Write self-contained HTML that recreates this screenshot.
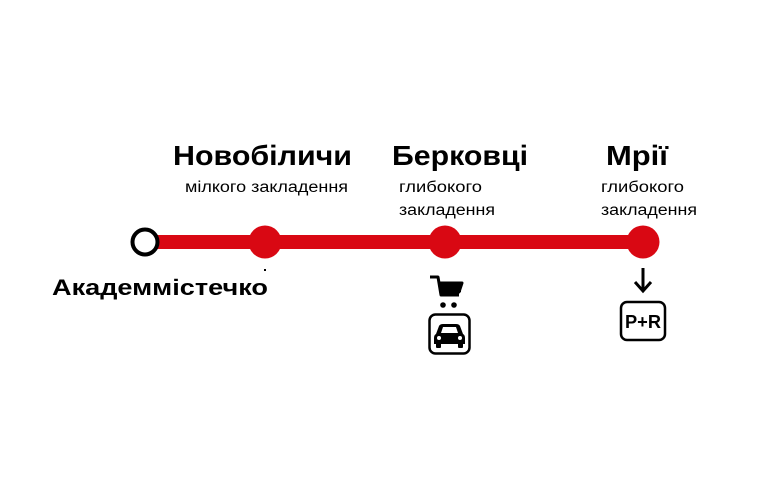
<!DOCTYPE html>
<html><head><meta charset="utf-8"><style>
html,body{margin:0;padding:0;background:#fff;}
svg{display:block;font-family:"Liberation Sans",sans-serif;}
</style></head><body>
<svg width="768" height="480" viewBox="0 0 768 480">
<rect x="150" y="235" width="495" height="14" fill="#d90813"/>
<circle cx="145" cy="242" r="12.5" fill="#fff" stroke="#000" stroke-width="4"/>
<circle cx="265" cy="242" r="16.5" fill="#d90813"/>
<circle cx="445" cy="242" r="16.5" fill="#d90813"/>
<circle cx="643" cy="242" r="16.5" fill="#d90813"/>
<rect x="264" y="269" width="2" height="2" fill="#000"/>
<g font-weight="bold" font-size="28" fill="#000">
<text x="173" y="165" textLength="179" lengthAdjust="spacingAndGlyphs">Новобіличи</text>
<text x="392" y="165" textLength="136" lengthAdjust="spacingAndGlyphs">Берковці</text>
<text x="606" y="165" textLength="62" lengthAdjust="spacingAndGlyphs">Мрії</text>
<text x="52" y="295" font-size="22" textLength="216" lengthAdjust="spacingAndGlyphs">Академмістечко</text>
</g>
<g font-size="15.5" fill="#000">
<text x="185" y="192" textLength="163" lengthAdjust="spacingAndGlyphs">мілкого закладення</text>
<text x="399" y="192" textLength="83" lengthAdjust="spacingAndGlyphs">глибокого</text>
<text x="399" y="215" textLength="96" lengthAdjust="spacingAndGlyphs">закладення</text>
<text x="601" y="192" textLength="83" lengthAdjust="spacingAndGlyphs">глибокого</text>
<text x="601" y="215" textLength="96" lengthAdjust="spacingAndGlyphs">закладення</text>
</g>
<!-- cart -->
<path d="M430 277 H438 L441 295 H459 M439 283 H462 L459 292 H440" fill="none" stroke="#000" stroke-width="3" stroke-linejoin="round"/>
<rect x="440" y="283" width="21" height="9" fill="#000"/>
<circle cx="443" cy="305" r="2.8" fill="#000"/>
<circle cx="454" cy="305" r="2.8" fill="#000"/>
<!-- car box -->
<rect x="429.5" y="314.5" width="40" height="39" rx="6" fill="#fff" stroke="#000" stroke-width="2.5"/>
<path d="M436 334 L439 326 Q440 324 443 324 H456 Q459 324 460 326 L463 334 Q465 335 465 338 V344 H434 V338 Q434 335 436 334 Z" fill="#000"/>
<rect x="436" y="343" width="5" height="5" rx="1" fill="#000"/>
<rect x="458" y="343" width="5" height="5" rx="1" fill="#000"/>
<path d="M441 333 L443 327 H456 L458 333 Z" fill="#fff"/>
<circle cx="439" cy="338" r="2" fill="#fff"/>
<circle cx="460" cy="338" r="2" fill="#fff"/>
<!-- arrow -->
<path d="M643 268 V290 M635 282 L643 291 L651 282" fill="none" stroke="#000" stroke-width="3"/>
<rect x="621" y="302" width="44" height="38" rx="6" fill="#fff" stroke="#000" stroke-width="2.5"/>
<text x="643" y="328" font-size="18" font-weight="bold" text-anchor="middle" textLength="36" lengthAdjust="spacingAndGlyphs">P+R</text>
</svg>
</body></html>
